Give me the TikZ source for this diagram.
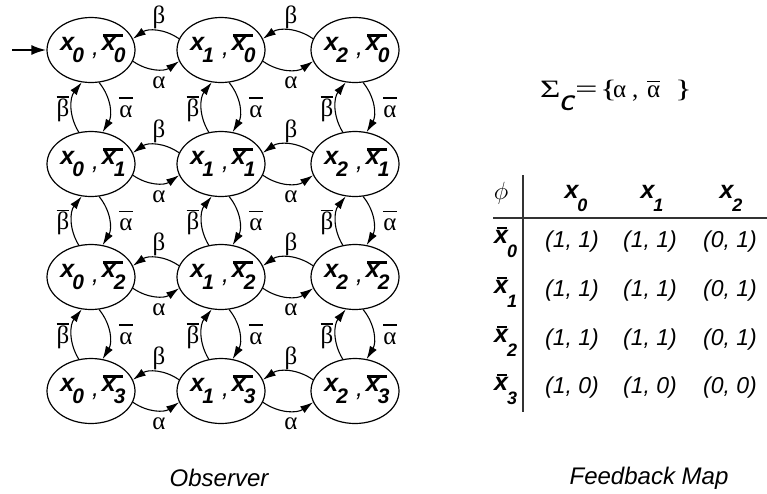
\documentclass[tikz,border=0pt]{standalone}
\usepackage{fontspec}
\usepackage{graphicx}
\setmainfont{Liberation Sans}
\newfontfamily\serif{Liberation Serif}
\usetikzlibrary{arrows.meta,calc,shapes.geometric}

\newcommand{\fs}[1]{\fontsize{#1}{#1}\selectfont}
\newcommand{\bi}{\bfseries\itshape}
\newcommand{\xsub}[1]{\kern-2pt\raisebox{-12pt}{\fs{21}\bi #1}}
\newcommand{\xov}{\rlap{\hspace{1pt}\rule[13.5pt]{20pt}{3pt}}x}
\newcommand{\st}[2]{\makebox[0pt]{\hspace{4pt}\fs{25}\bi x\xsub{#1}\hspace{8pt}\raisebox{-5pt}{\mdseries ,}\hspace{3pt}\xov\xsub{#2}}}
\newcommand{\gb}[2][18.5pt]{\setbox0\hbox{#2}\rlap{\raisebox{#1}{\rule{\wd0}{1.5pt}}}\box0}
\newcommand{\hx}[1]{\fs{25}\bi x\kern-1pt\raisebox{-13pt}{\fs{18}\bi #1}}
\newcommand{\rx}[1]{\fs{25}\bi \rlap{\hspace{3pt}\rule[14.5pt]{10pt}{2pt}}x\kern-1pt\raisebox{-14pt}{\fs{18}\bi #1}}

\tikzset{
  state/.style={ellipse, draw, line width=1.2pt, minimum width=88pt, minimum height=65pt,
                inner sep=0pt, text height=4pt, text depth=4pt},
  arr/.style={-{Latex[length=13pt,width=8pt]}, line width=1.1pt},
  glab/.style={font={\serif\fontsize{25}{25}\selectfont}, inner sep=0pt, anchor=base},
  tline/.style={line width=1.5pt, draw=black!80},
  entry/.style={font={\fontsize{23}{23}\selectfont\itshape}, inner sep=0pt, anchor=base},
  rlab/.style={inner sep=0pt, anchor=base west},
  captext/.style={font={\fontsize{24}{24}\selectfont\itshape}, inner sep=0pt, anchor=base}
}

\begin{document}
\begin{tikzpicture}[x=1pt,y=1pt]
\useasboundingbox (0,0) rectangle (767,-493);

% states
\foreach \c/\cx in {0/91,1/221,2/355}{
  \foreach \r/\ry in {0/50,1/164,2/277,3/391}{
    \node[state] (s\r\c) at (\cx,-\ry) {\st{\c}{\r}};
  }
}

% initial arrow
\coordinate (init) at (12,-50);
\draw[-{Latex[length=15pt,width=10pt]}, line width=2.2pt] (init) -- (s00.west);

% horizontal transitions
\foreach \r in {0,1,2,3}{
  \foreach \c/\cn in {0/1,1/2}{
    \draw[arr] (s\r\cn.165) to[bend right=35] (s\r\c.15);
    \draw[arr] (s\r\c.-15) to[bend right=35] (s\r\cn.195);
    \node[glab] (lb\r\c) at ($(s\r\c.east)!0.5!(s\r\cn.west)+(3,27)$) {β};
    \node[glab] (la\r\c) at ($(s\r\c.east)!0.5!(s\r\cn.west)+(3,-38)$) {α};
  }
}

% vertical transitions
\foreach \c in {0,1,2}{
  \foreach \r/\rn in {0/1,1/2,2/3}{
    \draw[arr] (s\rn\c.111) to[bend left=35] (s\r\c.254);
    \draw[arr] (s\r\c.284) to[bend left=35] (s\rn\c.70);
    \node[glab] (vb\r\c) at ($(s\r\c.south)!0.5!(s\rn\c.north)+(-28,-9)$) {\gb{β}};
    \node[glab] (va\r\c) at ($(s\r\c.south)!0.5!(s\rn\c.north)+(35,-10)$) {\gb{α}};
  }
}

% Sigma_c
\node[inner sep=0pt, anchor=base west] (sigma) at (540,-97)
  {\serif\fs{25}%
   \makebox[19pt][l]{\scalebox{1.4}[1]{Σ}}%
   \makebox[16pt][l]{\raisebox{-13pt}{\sffamily\fs{21}\bi C}}%
   \makebox[25pt][l]{\scalebox{1.6}[1]{=}}%
   \makebox[13pt][l]{\scalebox{1.4}[1]{\{}}%
   \makebox[19pt][l]{α}%
   \makebox[15pt][l]{,}%
   \makebox[28pt][l]{\gb[15pt]{α}}%
   \scalebox{1.4}[1]{\}}};

% table
\draw[tline] (523,-175) -- (523,-412);
\draw[tline] (493,-218) -- (767,-218);
\node[inner sep=0pt] (phi) at (501,-193) {\fs{25}$\phi$};
\node[inner sep=0pt, anchor=base] (h0) at (576,-198) {\hx{0}};
\node[inner sep=0pt, anchor=base] (h1) at (652,-198) {\hx{1}};
\node[inner sep=0pt, anchor=base] (h2) at (731,-198) {\hx{2}};

\node[rlab] (r0) at (494,-243) {\rx{0}};
\node[rlab] (r1) at (494,-293) {\rx{1}};
\node[rlab] (r2) at (494,-342) {\rx{2}};
\node[rlab] (r3) at (494,-390) {\rx{3}};

\node[entry] (e00) at (572,-247) {(1, 1)};
\node[entry] (e01) at (650,-247) {(1, 1)};
\node[entry] (e02) at (730,-247) {(0, 1)};
\node[entry] (e10) at (572,-296) {(1, 1)};
\node[entry] (e11) at (650,-296) {(1, 1)};
\node[entry] (e12) at (730,-296) {(0, 1)};
\node[entry] (e20) at (572,-345) {(1, 1)};
\node[entry] (e21) at (650,-345) {(1, 1)};
\node[entry] (e22) at (730,-345) {(0, 1)};
\node[entry] (e30) at (572,-393) {(1, 0)};
\node[entry] (e31) at (650,-393) {(1, 0)};
\node[entry] (e32) at (730,-393) {(0, 0)};

% captions
\node[captext] (obs) at (219,-486) {Observer};
\node[captext] (fbm) at (649,-484) {Feedback Map};
\end{tikzpicture}
\end{document}
